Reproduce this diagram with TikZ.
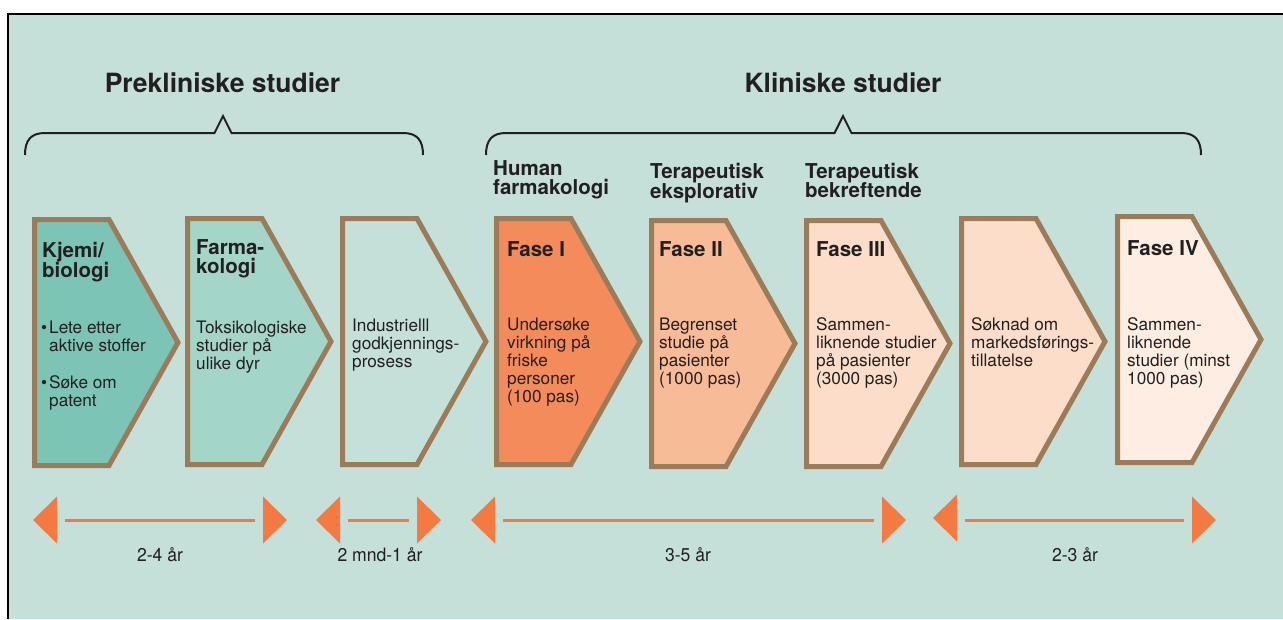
\documentclass[tikz,border=0pt]{standalone}
\usepackage{fontspec}
\setmainfont{TeX Gyre Heros}
\newfontfamily\spanfont[FakeStretch=0.95]{TeX Gyre Heros}
\usetikzlibrary{calc}

\definecolor{bgteal}{HTML}{C4E0D9}
\definecolor{rimbrown}{HTML}{9B7B58}
\definecolor{inkdark}{HTML}{231F20}
\definecolor{spanorange}{HTML}{F47A42}
\definecolor{fillA}{HTML}{7CC4B5}
\definecolor{fillB}{HTML}{A3D5C9}
\definecolor{fillC}{HTML}{C4E1D9}
\definecolor{fillD}{HTML}{F48B5A}
\definecolor{fillE}{HTML}{F8BB97}
\definecolor{fillF}{HTML}{FBDDCA}
\definecolor{fillG}{HTML}{FDEDE3}

% lines of a text block; the block's baseline is that of its first line
\newcommand\stack[1]{\vtop{\halign{##\hfil\cr#1\crcr}}}

% arrow-shaped phase box: left x, top y, fill colour
\newcommand\phasebox[3]{%
  \filldraw[boxrim, fill=#3]
    (#1+2.5,#2+2.5) -- (#1+77,#2+2.5) -- (#1+146,#2+125.5)
    -- (#1+77,#2+248.5) -- (#1+2.5,#2+248.5) -- cycle;}

% double-headed time span between two named coordinates
\newcommand\timespan[2]{%
  \fill[spanorange] (#1) -- ++(24,-23.5) -- ++(0,47) -- cycle;
  \fill[spanorange] (#2) -- ++(-24,-23.5) -- ++(0,47) -- cycle;
  \draw[spanline] (#1) -- (#2);}

\tikzset{
  boxrim/.style={draw=rimbrown, line width=5pt, line join=miter},
  spanline/.style={draw=spanorange, line width=3pt, shorten <=32pt, shorten >=32pt},
  brace/.style={draw=inkdark, line width=2pt, line join=miter},
  bodytxt/.style={inner sep=0, anchor=base west, text=inkdark,
    font=\fontsize{17.2}{18.2}\selectfont},
  headtxt/.style={inner sep=0, anchor=base west, text=inkdark,
    font=\bfseries\fontsize{20.5}{19.5}\selectfont},
  titletxt/.style={inner sep=0, anchor=base, text=inkdark,
    font=\bfseries\fontsize{26.5}{29}\selectfont},
  spantxt/.style={inner sep=0, anchor=base, text=inkdark,
    font=\spanfont\fontsize{18.5}{20}\selectfont},
}

\begin{document}
\begin{tikzpicture}[x=1pt, y=-1pt]
\useasboundingbox (0,0) rectangle (1283,619);

% panel with frame on the top and left
\fill[white] (0,0) rectangle (1283,619);
\fill[bgteal] (8.3,13.7) rectangle (1283,619);
\draw[line width=2pt, black] (8.3,619) -- (8.3,13.7) -- (1283,13.7);

% group titles and braces
\node[titletxt] (precl) at (222.5,92) {Prekliniske studier};
\node[titletxt] (clin) at (843,92) {Kliniske studier};

\draw[brace] (25,155) .. controls (25,140) and (31,133) .. (45,133)
  -- (214.5,133) -- (223,116) -- (231.5,133) -- (403,133)
  .. controls (417,133) and (423,140) .. (423,155);
\draw[brace] (486,155) .. controls (486,140) and (492,133) .. (506,133)
  -- (834.5,133) -- (843,116) -- (851.5,133) -- (1181,133)
  .. controls (1195,133) and (1201,140) .. (1201,155);

% phase boxes
\phasebox{32}{217}{fillA}
\phasebox{185}{216}{fillB}
\phasebox{340}{216}{fillC}
\phasebox{494}{216}{fillD}
\phasebox{649}{218}{fillE}
\phasebox{804}{218}{fillF}
\phasebox{959}{216}{fillF}
\phasebox{1115}{214}{fillG}

% headings above the clinical phases
\node[headtxt] (hum) at (493,175) {\stack{Human\cr farmakologi}};
\node[headtxt] (expl) at (650,178) {\stack{Terapeutisk\cr eksplorativ}};
\node[headtxt] (conf) at (805,178) {\stack{Terapeutisk\cr bekreftende}};

% box headings
\node[headtxt] (chem) at (42,257) {\stack{Kjemi/\cr biologi}};
\node[headtxt] (pharm) at (196,254) {\stack{Farma-\cr kologi}};
\node[headtxt] (f1) at (507,256) {Fase I};
\node[headtxt] (f2) at (659,256) {Fase II};
\node[headtxt] (f3) at (816,256) {Fase III};
\node[headtxt] (f4) at (1127,255) {Fase IV};

% box texts
\node[bodytxt] (chemA) at (49,333) {\stack{\llap{•\kern2pt}Lete etter\cr aktive stoffer}};
\node[bodytxt] (chemB) at (49,388) {\stack{\llap{•\kern2pt}Søke om\cr patent}};
\node[bodytxt] (tox) at (196,333) {\stack{Toksikologiske\cr studier på\cr ulike dyr}};
\node[bodytxt] (ind) at (352,331) {\stack{Industrielll\cr godkjennings-\cr prosess}};
\node[bodytxt] (t1) at (507,330) {\stack{Undersøke\cr virkning på\cr friske\cr personer\cr (100 pas)}};
\node[bodytxt] (t2) at (659,330) {\stack{Begrenset\cr studie på\cr pasienter\cr (1000 pas)}};
\node[bodytxt] (t3) at (816,330) {\stack{Sammen-\cr liknende studier\cr på pasienter\cr (3000 pas)}};
\node[bodytxt] (mkt) at (971,330) {\stack{Søknad om\cr markedsførings-\cr tillatelse}};
\node[bodytxt] (t4) at (1127,330) {\stack{Sammen-\cr liknende\cr studier (minst\cr 1000 pas)}};

% time spans
\coordinate (s1l) at (33,520);  \coordinate (s1r) at (287,520);
\coordinate (s2l) at (316,520); \coordinate (s2r) at (441,520);
\coordinate (s3l) at (471,520); \coordinate (s3r) at (906,520);
\coordinate (s4l) at (933,518); \coordinate (s4r) at (1216,520);
\timespan{s1l}{s1r}
\timespan{s2l}{s2r}
\timespan{s3l}{s3r}
\fill[spanorange] (s4l) -- ++(24,-23.5) -- ++(0,47) -- cycle;
\fill[spanorange] (s4r) -- ++(-24,-23.5) -- ++(0,47) -- cycle;
\draw[spanline] (s4l |- s4r) -- (s4r);

\node[spantxt] (d1) at (160,561) {2-4 år};
\node[spantxt] (d2) at (380,561) {2 mnd-1 år};
\node[spantxt] (d3) at (688,561) {3-5 år};
\node[spantxt] (d4) at (1075,561) {2-3 år};
\end{tikzpicture}
\end{document}
